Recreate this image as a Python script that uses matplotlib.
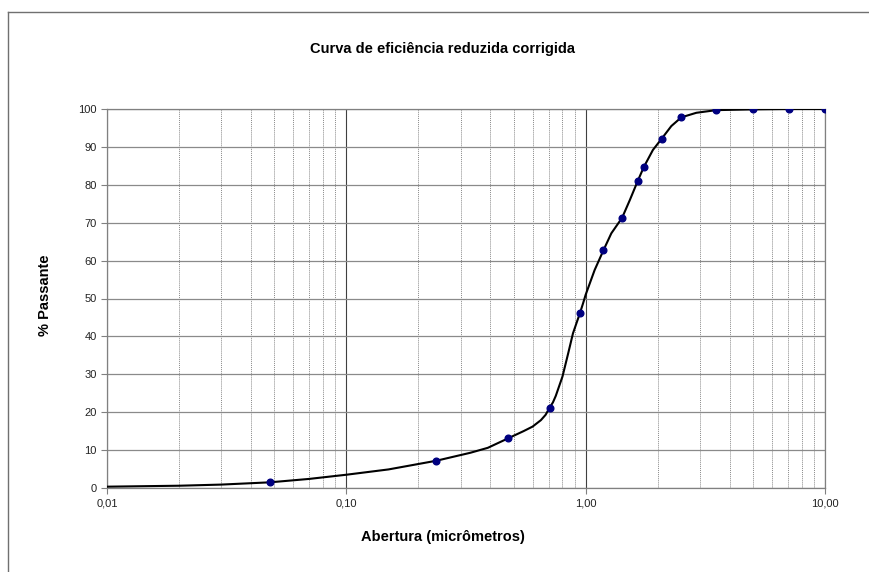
import matplotlib
matplotlib.use('Agg')
import matplotlib.pyplot as plt
from matplotlib.ticker import FixedLocator, FixedFormatter, LogLocator, NullFormatter
from matplotlib.lines import Line2D

plt.rcParams['font.family'] = ['Liberation Sans', 'DejaVu Sans']

# measured points (markers)
abertura = [0.048, 0.238, 0.474, 0.707, 0.946, 1.186, 1.42, 1.65, 1.75,
            2.08, 2.51, 3.51, 4.98, 7.06, 10.0]
passante = [1.5, 7.2, 13.1, 21.2, 46.1, 62.7, 71.3, 81.0, 84.7,
            92.2, 97.8, 99.7, 99.9, 100.0, 100.0]

# smooth curve
curva_x = [0.01, 0.02, 0.03, 0.048, 0.07, 0.10, 0.15, 0.238, 0.33, 0.39,
           0.474, 0.55, 0.60, 0.65, 0.68, 0.707, 0.73, 0.75, 0.80, 0.845,
           0.885, 0.92, 0.946, 0.975, 1.0, 1.09, 1.186, 1.28, 1.42, 1.53,
           1.65, 1.75, 1.91, 2.08, 2.28, 2.51, 2.9, 3.51, 4.98, 7.06, 10.0]
curva_y = [0.35, 0.6, 0.9, 1.5, 2.4, 3.5, 4.9, 7.2, 9.3, 10.6,
           13.1, 15.0, 16.2, 17.9, 19.3, 21.2, 22.6, 24.3, 29.4, 35.5,
           40.8, 43.9, 46.1, 48.7, 51.0, 57.5, 62.7, 67.2, 71.3, 76.0,
           81.0, 84.7, 89.2, 92.2, 95.5, 97.8, 99.0, 99.7, 99.9, 100.0, 100.0]

x_ticks = [0.01, 0.1, 1, 10]
x_labels = ['0,01', '0,10', '1,00', '10,00']
y_ticks = list(range(0, 101, 10))

fig = plt.figure(figsize=(8.69, 5.72), dpi=100)
ax = fig.add_axes([107 / 869, 1 - 488 / 572, 718 / 869, 379 / 572])

ax.set_xscale('log')
ax.set_xlim(0.01, 10)
ax.set_ylim(0, 100)

ax.xaxis.set_major_locator(FixedLocator(x_ticks))
ax.xaxis.set_major_formatter(FixedFormatter(x_labels))
ax.xaxis.set_minor_locator(LogLocator(base=10, subs=range(2, 10)))
ax.xaxis.set_minor_formatter(NullFormatter())
ax.set_yticks(y_ticks)

ax.grid(True, which='major', axis='x', color='#404040', lw=0.8)
ax.grid(True, which='minor', axis='x', color='#8a8a8a', lw=0.7, ls=(0, (1, 1)))
ax.grid(True, which='major', axis='y', color='#8a8a8a', lw=0.9)
ax.set_axisbelow(True)

for s in ax.spines.values():
    s.set_color('#808080')
    s.set_linewidth(0.9)

ax.tick_params(axis='both', which='major', labelsize=8, length=4, width=0.8,
               color='#808080', labelcolor='#222222')
ax.tick_params(axis='x', which='minor', length=0)

ax.plot(curva_x, curva_y, color='black', lw=1.5, zorder=3)
ax.plot(abertura, passante, ls='none', marker='o', ms=4.8,
        color='#000080', zorder=4)

fig.text(443 / 869, 1 - 49 / 572, 'Curva de eficiência reduzida corrigida',
         ha='center', va='center', fontsize=10.5, fontweight='bold')
fig.text(443 / 869, 1 - 537 / 572, 'Abertura (micrômetros)',
         ha='center', va='center', fontsize=10.5, fontweight='bold')
fig.text(45 / 869, 1 - 295 / 572, '% Passante', rotation=90,
         ha='center', va='center', fontsize=10.5, fontweight='bold')

# chart area border (only top and left visible in the crop)
fig.add_artist(Line2D([8 / 869, 1], [1 - 12 / 572, 1 - 12 / 572],
                      color='#707070', lw=1, transform=fig.transFigure))
fig.add_artist(Line2D([8 / 869, 8 / 869], [1 - 12 / 572, 0],
                      color='#707070', lw=1, transform=fig.transFigure))

fig.savefig('out.png', dpi=100)
